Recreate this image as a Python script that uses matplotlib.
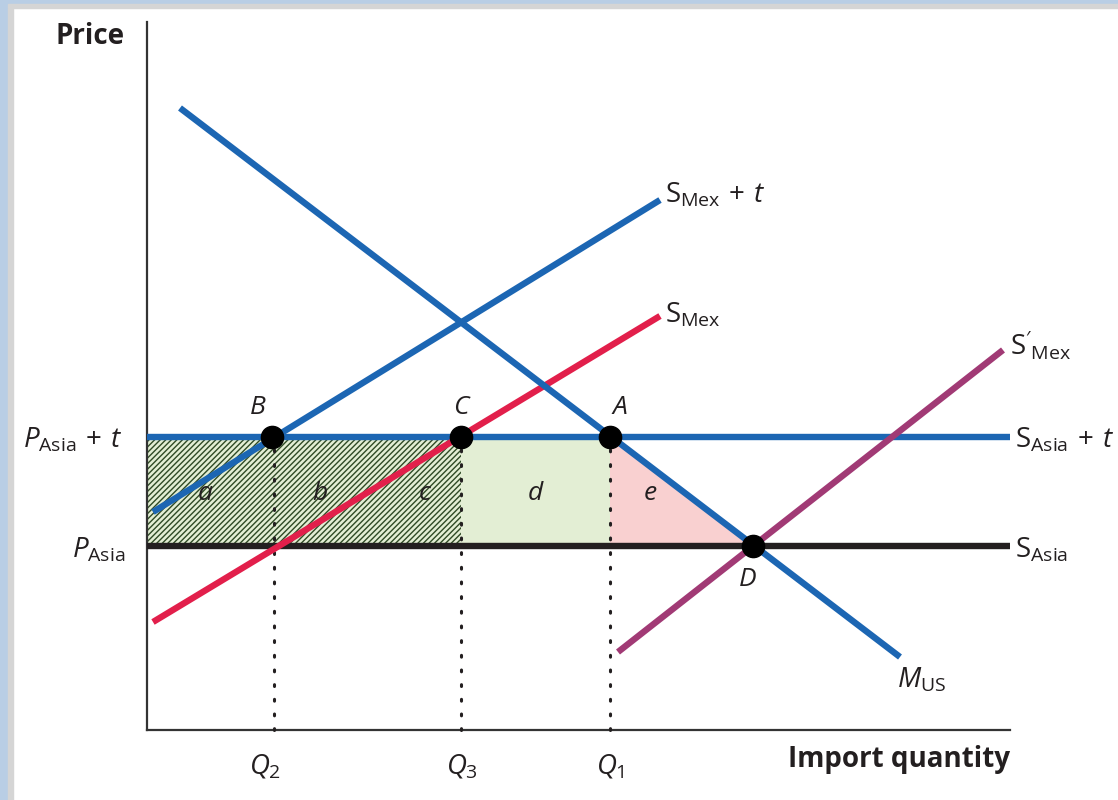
import matplotlib
matplotlib.use("Agg")
import matplotlib.pyplot as plt
from matplotlib.patches import Rectangle, Polygon

plt.rcParams['font.family'] = ['Open Sans', 'DejaVu Sans']
plt.rcParams['mathtext.fontset'] = 'custom'
plt.rcParams['mathtext.rm'] = 'Open Sans'
plt.rcParams['mathtext.it'] = 'Open Sans:italic'
plt.rcParams['mathtext.bf'] = 'Open Sans:bold'
plt.rcParams['hatch.linewidth'] = 1.0

# prices
p_asia = 184
p_asia_t = 293
# quantities
q2, q3, q1, qd = 127, 314, 463, 606
# curves (endpoints, quantity / price)
m_us_q = [33, 753]
m_us_p = [622, 73]
smex_t_q = [6, 513]
smex_t_p = [218, 530]
smex_q = [6, 513]
smex_p = [108, 414]
smex2_q = [471, 856]
smex2_p = [78, 380]
q_end = 863
p_top = 708

blue = '#1c66b3'
red = '#e21f4b'
purple = '#a13a75'
black = '#231f20'

fig = plt.figure(figsize=(11.18, 8), dpi=100)
ax = fig.add_axes([0, 0, 1, 1])
ax.set_xlim(-147, 971)
ax.set_ylim(-70, 730)
ax.axis('off')

# frame border
fig.patches.append(Rectangle((0, 0), 8 / 1118, 1, transform=fig.transFigure, color='#b9cee5', zorder=0))
fig.patches.append(Rectangle((8 / 1118, 0), 5 / 1118, 1 - 8 / 800, transform=fig.transFigure, color='#d5d5d5', zorder=0))
fig.patches.append(Rectangle((0, 1 - 4 / 800), 1, 4 / 800, transform=fig.transFigure, color='#b9cee5', zorder=0))
fig.patches.append(Rectangle((8 / 1118, 1 - 8 / 800), 1, 4 / 800, transform=fig.transFigure, color='#d5d5d5', zorder=0))

# shaded areas
ax.fill_between([0, q3], p_asia, p_asia_t, facecolor='#e3eed4', edgecolor='#2f4a25',
                hatch='//////', linewidth=0, zorder=1)
ax.fill_between([q3, q1], p_asia, p_asia_t, facecolor='#e3eed4', linewidth=0, zorder=1)
ax.add_patch(Polygon([[q1, p_asia_t], [q1, p_asia], [qd, p_asia]], closed=True,
                     facecolor='#f9d0d0', edgecolor='none', zorder=1))

# axes
ax.plot([0, 0], [0, p_top], color='#333333', lw=1.6, zorder=2)
ax.plot([0, q_end], [0, 0], color='#333333', lw=1.6, zorder=2)

# dotted guides
for q in [q2, q3, q1]:
    ax.plot([q, q], [0, p_asia_t], color=black, lw=2.2, ls=(0, (0.6, 4.2)),
            dash_capstyle='round', zorder=2)

lw = 4.6
ax.plot([0, q_end], [p_asia, p_asia], color=black, lw=lw, solid_capstyle='butt', zorder=3)
ax.plot([0, q_end], [p_asia_t, p_asia_t], color=blue, lw=lw, solid_capstyle='butt', zorder=3)
ax.plot(smex_q, smex_p, color=red, lw=lw, solid_capstyle='butt', zorder=3)
ax.plot(smex_t_q, smex_t_p, color=blue, lw=lw, solid_capstyle='butt', zorder=3)
ax.plot(smex2_q, smex2_p, color=purple, lw=lw, solid_capstyle='butt', zorder=3)
ax.plot(m_us_q, m_us_p, color=blue, lw=lw, solid_capstyle='butt', zorder=4)

# points
ax.plot([q2 - 2, q3, q1, qd], [p_asia_t, p_asia_t, p_asia_t, p_asia], 'o',
        color='black', markersize=16, zorder=5)

fs = 20
ax.text(-22, 693, 'Price', fontsize=fs, fontweight='bold', ha='right', va='center', color=black)
ax.text(863, -30, 'Import quantity', fontsize=fs, fontweight='bold', ha='right', va='center', color=black)

ax.text(-25, 290, r'$P_{\mathrm{Asia}}\,+\,t$', fontsize=fs, ha='right', va='center', color=black)
ax.text(-22, 180, r'$P_{\mathrm{Asia}}$', fontsize=fs, ha='right', va='center', color=black)
ax.text(868, 290, r'$\mathrm{S}_{\mathrm{Asia}}\,+\,t$', fontsize=fs, ha='left', va='center', color=black)
ax.text(868, 180, r'$\mathrm{S}_{\mathrm{Asia}}$', fontsize=fs, ha='left', va='center', color=black)
ax.text(518, 535, r'$\mathrm{S}_{\mathrm{Mex}}\,+\,t$', fontsize=fs, ha='left', va='center', color=black)
ax.text(518, 415, r'$\mathrm{S}_{\mathrm{Mex}}$', fontsize=fs, ha='left', va='center', color=black)
ax.text(863, 385, r"$\mathrm{S}'_{\mathrm{Mex}}$", fontsize=fs, ha='left', va='center', color=black)
ax.text(750, 50, r'$M_{\mathrm{US}}$', fontsize=fs, ha='left', va='center', color=black)

for lbl, qx in [('B', q2 - 16), ('C', q3), ('A', q1 + 10)]:
    ax.text(qx, 322, lbl, fontsize=19, fontstyle='italic', ha='center', va='center', color=black)
ax.text(qd - 5, 150, 'D', fontsize=19, fontstyle='italic', ha='center', va='center', color=black)

for lbl, qx in [('a', 58), ('b', 173), ('c', 278), ('d', 388), ('e', 503)]:
    ax.text(qx, 236, lbl, fontsize=19, fontstyle='italic', ha='center', va='center', color=black)

for lbl, qx in [(r'$Q_2$', q2 - 9), (r'$Q_3$', q3 + 1), (r'$Q_1$', q1)]:
    ax.text(qx, -37, lbl, fontsize=fs, ha='center', va='center', color=black)

fig.savefig('out.png', dpi=100)
